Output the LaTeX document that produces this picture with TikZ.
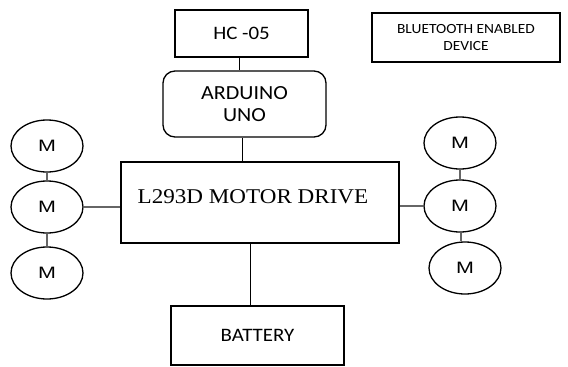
\documentclass[tikz,border=0pt]{standalone}
\usepackage{fontspec}
\setmainfont{Carlito}[FakeStretch=1.1]
\newfontfamily\arialf{Liberation Sans}[FakeStretch=1.3]
\newfontfamily\timesf{Liberation Serif}[FakeStretch=1.1]
\usetikzlibrary{shapes.geometric}
\begin{document}
\begin{tikzpicture}[x=1pt,y=-1pt,
  box/.style={draw=black,line width=1.3pt,rectangle,inner sep=0pt,align=center},
  motor/.style={draw=black,line width=1.3pt,ellipse,minimum width=72pt,minimum height=52pt,inner sep=0pt,font=\arialf\fontsize{16.5}{18}\selectfont},
  wire/.style={draw=black,line width=0.9pt},
  mwire/.style={draw=black!60,line width=1.1pt}]
\useasboundingbox (0,0) rectangle (568,367);
\node[box,minimum width=133pt,minimum height=47pt,font=\fontsize{19}{22}\selectfont] (hc) at (241.5,33.5) {HC -05};
\node[box,minimum width=188pt,minimum height=49pt,font=\fontsize{14}{17}\selectfont] (bt) at (466,37.5) {BLUETOOTH ENABLED\\DEVICE};
\node[box,rounded corners=12pt,minimum width=163pt,minimum height=66pt,font=\fontsize{20}{22}\selectfont] (ard) at (244.5,104) {ARDUINO\\UNO};
\node[box,minimum width=278pt,minimum height=81pt,label={[font=\timesf\fontsize{21}{24}\selectfont,xshift=-7pt,yshift=6pt]center:L293D MOTOR DRIVE}] (drv) at (260,202.5) {};
\node[box,minimum width=173pt,minimum height=59pt,font=\fontsize{19}{21}\selectfont] (bat) at (257.5,335.5) {BATTERY};
\node[motor] (lm1) at (47,146) {M};
\node[motor] (lm2) at (47,207) {M};
\node[motor] (lm3) at (47,273) {M};
\node[motor] (rm1) at (460,143) {M};
\node[motor] (rm2) at (460,206) {M};
\node[motor] (rm3) at (465,268) {M};
\draw[wire] ([xshift=-2.5pt]hc.south) -- ([xshift=-2.5pt]hc.south |- ard.north);
\draw[wire] ([xshift=-2.5pt]ard.south) -- ([xshift=-2.5pt]ard.south |- drv.north);
\draw[wire] ([xshift=-7.5pt]bat.north) -- ([xshift=-7.5pt]bat.north |- drv.south);
\draw[mwire] (lm1.south) -- (lm2.north);
\draw[mwire] (lm2.south) -- (lm3.north);
\draw[mwire] (lm2.east) -- (lm2.east -| drv.west);
\draw[mwire] (rm1.south) -- (rm2.north);
\draw[mwire] ([xshift=1pt]rm2.south) -- ([xshift=1pt]rm2.south |- rm3.north);
\draw[mwire] (rm2.west) -- (rm2.west -| drv.east);
\end{tikzpicture}
\end{document}
